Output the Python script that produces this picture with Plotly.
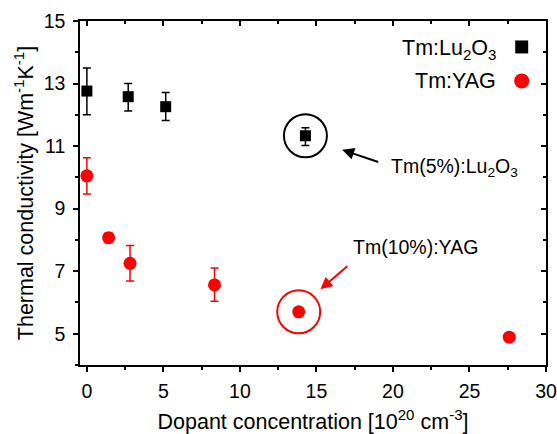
import plotly.graph_objects as go

# Tm:Lu2O3 thermal conductivity vs dopant concentration
lu_conc = [0.0, 2.7, 5.15, 14.28]
lu_k = [12.76, 12.58, 12.26, 11.33]
lu_err_plus = [0.74, 0.42, 0.45, 0.26]
lu_err_minus = [0.76, 0.46, 0.44, 0.31]

# Tm:YAG thermal conductivity vs dopant concentration
yag_conc = [0.0, 1.42, 2.82, 8.34, 13.84, 27.6]
yag_k = [10.05, 8.07, 7.25, 6.56, 5.70, 4.89]
yag_err_plus = [0.58, 0.15, 0.57, 0.54, 0.0, 0.0]
yag_err_minus = [0.58, 0.15, 0.56, 0.52, 0.0, 0.0]

# highlighted samples
lu_hl = (lu_conc[3], lu_k[3])
yag_hl = (yag_conc[4], yag_k[4])

FONT = "Liberation Sans, Arial, sans-serif"
RED = "#ff0000"
TICK_SIZE = 19.5
TITLE_SIZE = 21.5

fig = go.Figure()

fig.add_trace(go.Scatter(
    x=lu_conc, y=lu_k, mode="markers", name="Tm:Lu2O3",
    marker=dict(symbol="square", size=11, color="black"),
    error_y=dict(type="data", array=lu_err_plus, arrayminus=lu_err_minus,
                 color="black", thickness=1.5, width=4),
))
fig.add_trace(go.Scatter(
    x=yag_conc, y=yag_k, mode="markers", name="Tm:YAG",
    marker=dict(symbol="circle", size=13, color=RED),
    error_y=dict(type="data", array=yag_err_plus, arrayminus=yag_err_minus,
                 color=RED, thickness=1.5, width=4),
))
# registers the mirrored top/right axes
fig.add_trace(go.Scatter(x=[], y=[], xaxis="x2", yaxis="y2", showlegend=False))

axis_common = dict(showline=True, linecolor="black", linewidth=1.5,
                   showgrid=False, zeroline=False, tickcolor="black",
                   tickwidth=1.5, automargin=False)

fig.update_layout(
    width=557, height=434,
    margin=dict(l=80, r=11, t=21, b=69),
    paper_bgcolor="white", plot_bgcolor="white",
    showlegend=False,
    font=dict(family=FONT, size=18, color="black"),
    xaxis=dict(range=[-0.45, 30], tick0=0, dtick=5, ticks="outside", ticklen=5,
               ticklabelstandoff=3,
               minor=dict(dtick=2.5, ticks="outside", ticklen=3, tickcolor="black", tickwidth=1.5),
               title=dict(text="Dopant concentration [10<sup>20</sup> cm<sup>-3</sup>]",
                          font=dict(size=TITLE_SIZE), standoff=18),
               tickfont=dict(size=TICK_SIZE), **axis_common),
    yaxis=dict(range=[4, 15], tick0=5, dtick=2, ticks="outside", ticklen=5,
               ticklabelstandoff=4,
               minor=dict(dtick=1, ticks="outside", ticklen=3, tickcolor="black", tickwidth=1.5),
               title=dict(text="Thermal conductivity [Wm<sup>-1</sup>K<sup>-1</sup>]",
                          font=dict(size=TITLE_SIZE), standoff=4),
               tickfont=dict(size=TICK_SIZE), **axis_common),
    xaxis2=dict(range=[-0.45, 30], overlaying="x", side="top", tick0=0, dtick=5,
                ticks="inside", ticklen=5, showticklabels=False,
                minor=dict(dtick=2.5, ticks="inside", ticklen=3, tickcolor="black", tickwidth=1.5),
                **axis_common),
    yaxis2=dict(range=[4, 15], overlaying="y", side="right", tick0=5, dtick=2,
                ticks="inside", ticklen=5, showticklabels=False,
                minor=dict(dtick=1, ticks="inside", ticklen=3, tickcolor="black", tickwidth=1.5),
                **axis_common),
)

# circles around highlighted samples
for (cx, cy), col in [(lu_hl, "black"), (yag_hl, RED)]:
    fig.add_shape(type="circle", xref="x", yref="y",
                  xsizemode="pixel", ysizemode="pixel",
                  xanchor=cx, yanchor=cy, x0=-21.5, x1=21.5, y0=-21.5, y1=21.5,
                  line=dict(color=col, width=2))

# arrows and labels
fig.add_annotation(x=16.68, y=10.88, xref="x", yref="y", text="",
                   showarrow=True, ax=37.6, ay=12.7, arrowcolor="black",
                   arrowhead=2, arrowsize=1.2, arrowwidth=2)
fig.add_annotation(x=15.26, y=6.42, xref="x", yref="y", text="",
                   showarrow=True, ax=28.3, ay=-24.3, arrowcolor=RED,
                   arrowhead=2, arrowsize=1.2, arrowwidth=2)
fig.add_annotation(x=19.75, y=10.33, xref="x", yref="y",
                   text="Tm(5%):Lu<sub>2</sub>O<sub>3</sub>", showarrow=False,
                   xanchor="left", yanchor="middle", font=dict(size=19.5))
fig.add_annotation(x=21.5, y=7.76, xref="x", yref="y",
                   text="Tm(10%):YAG", showarrow=False,
                   xanchor="center", yanchor="middle", font=dict(size=19.5))

# legend: text on the left, symbol on the right
def px_to_paper(px, py):
    return (px - 80) / 466, (365.3 - py) / 344.6

lx, ly1 = px_to_paper(498, 49)
_, ly2 = px_to_paper(498, 81)
fig.add_annotation(x=lx, y=ly1, xref="paper", yref="paper",
                   text="Tm:Lu<sub>2</sub>O<sub>3</sub>", showarrow=False,
                   xanchor="right", yanchor="middle", font=dict(size=21.5))
fig.add_annotation(x=lx, y=ly2, xref="paper", yref="paper",
                   text="Tm:YAG", showarrow=False,
                   xanchor="right", yanchor="middle", font=dict(size=21.5))
sx, sy1 = px_to_paper(521.7, 46.7)
_, sy2 = px_to_paper(521.7, 80.7)
fig.add_shape(type="rect", xref="paper", yref="paper",
              xsizemode="pixel", ysizemode="pixel",
              xanchor=sx, yanchor=sy1,
              x0=-6.5, x1=6.5, y0=-6.5, y1=6.5,
              fillcolor="black", line=dict(width=0))
fig.add_shape(type="circle", xref="paper", yref="paper",
              xsizemode="pixel", ysizemode="pixel",
              xanchor=sx, yanchor=sy2,
              x0=-7.5, x1=7.5, y0=-7.5, y1=7.5,
              fillcolor=RED, line=dict(width=0))

fig.write_html("out.html")
